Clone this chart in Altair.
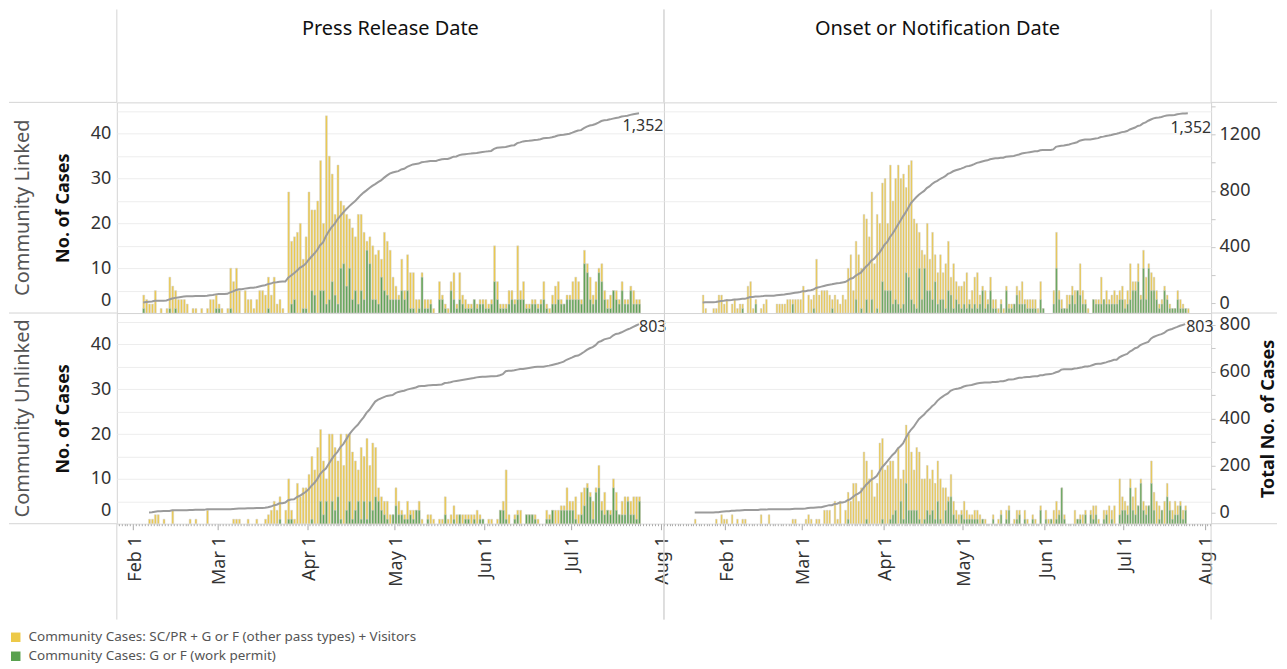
import altair as alt
import pandas as pd

YELLOW = "#EDC948"
GREEN = "#59A14F"
LINE = "#9B9B9B"
BORDER = "#D4D4D4"
GRID = "#EDEDED"
FONT = "Noto Sans"

LAB_OTHER = "Community Cases: SC/PR + G or F (other pass types) + Visitors"
LAB_WP = "Community Cases: G or F (work permit)"
COL_HEADERS = ["Press Release Date", "Onset or Notification Date"]
ROW_HEADERS = ["Community Linked", "Community Unlinked"]
LEFT_TITLE = "No. of Cases"
RIGHT_TITLE = "Total No. of Cases"

# ---- Press Release Date / Community Linked (daily from 2020-02-04)
PL_START = "2020-02-04"
PL_TOTAL = [4,3,2,2,5,0,1,0,1,8,6,5,3,3,3,2,0,1,1,0,1,0,1,3,3,4,
            2,1,0,1,10,7,
            10,5,0,5,3,3,1,3,5,5,4,8,4,8,2,3,1,0,
            27,16,17,18,20,12,17,
            27,23,23,25,34,20,44,35,31,22,33,25,
            24,22,21,19,17,22,22,18,16,
            17,15,13,14,12,18,16,14,8,
            6,4,12,5,13,9,9,3,3,9,
            3,3,3,1,0,7,4,2,1,7,
            9,2,9,4,3,2,2,3,2,3,
            3,3,2,3,15,7,2,2,2,5,
            5,3,15,5,7,2,2,3,3,2,
            3,7,2,1,4,6,7,3,2,4,
            4,7,8,7,3,14,11,8,4,7,
            10,11,5,3,4,5,5,3,7,3,
            3,6,5,3,3]
PL_WP = [1,0,0,0,0,0,0,0,0,1,0,1,0,0,0,0,0,0,0,0,0,0,0,0,0,1,
         1,0,0,0,1,0,
         0,0,0,0,0,0,0,0,0,0,0,1,0,0,0,0,0,0,
         0,2,3,0,0,1,1,
         0,5,4,0,5,5,2,3,7,4,2,10,
         11,6,10,3,5,2,5,3,14,
         11,3,3,2,8,5,4,3,3,
         3,3,5,3,5,1,1,0,1,8,
         1,1,2,0,0,3,3,1,0,5,
         3,1,3,2,1,1,1,3,1,2,
         2,1,1,2,7,3,1,1,1,2,
         3,2,3,3,3,1,1,2,2,1,
         2,3,1,0,2,2,3,2,2,3,
         3,3,3,3,2,11,9,3,2,3,
         9,7,3,1,1,5,3,2,5,2,
         2,5,2,2,2]

# ---- Onset or Notification Date / Community Linked (daily from 2020-01-23)
OL_START = "2020-01-23"
OL_TOTAL = [4,1,0,0,1,1,4,4,2,3,
            0,2,3,1,2,2,0,6,7,1,3,0,1,2,3,0,0,0,2,2,2,2,3,3,3,3,3,3,
            6,0,4,3,4,12,4,5,5,5,4,3,4,3,2,4,
            3,10,13,5,16,13,10,22,
            21,17,27,11,22,20,29,
            30,20,33,25,30,33,30,31,28,33,34,
            21,20,18,14,13,20,12,18,13,9,
            13,9,11,16,8,11,7,6,6,7,
            9,3,5,8,9,4,6,5,3,
            8,3,3,1,3,1,6,2,2,2,
            6,5,7,3,3,3,3,3,1,7,
            1,0,0,0,5,18,5,3,1,4,
            4,6,5,5,11,5,3,1,0,3,
            3,3,8,3,5,3,4,5,4,5,
            6,3,5,11,7,7,11,4,14,8,
            11,9,8,5,2,3,6,4,2,1,
            1,5,3,2,1,1]
OL_WP = [0,0,0,0,0,0,0,0,0,0,
         0,0,0,0,0,1,0,0,0,0,2,0,0,0,0,0,0,0,0,0,0,0,0,0,2,0,0,0,
         0,0,0,0,1,0,0,0,0,0,0,1,0,0,0,0,
         0,0,0,0,3,0,1,0,
         3,0,3,0,1,0,7,
         5,5,5,2,3,2,1,2,9,8,3,
         2,1,10,3,10,5,5,3,7,2,
         3,3,1,5,4,1,3,2,1,2,
         1,2,1,2,1,2,5,1,2,
         5,1,1,0,2,0,5,1,1,2,
         4,2,2,2,1,1,1,1,0,3,
         1,0,0,0,2,10,3,1,1,1,
         2,4,2,5,4,2,2,0,0,3,
         2,2,2,3,2,2,2,2,2,3,
         3,1,2,3,5,5,7,3,10,3,
         10,5,5,3,1,2,5,3,1,1,
         1,3,1,1,1,0]

# ---- Press Release Date / Community Unlinked (daily from 2020-02-06)
PU_START = "2020-02-06"
PU_TOTAL = [1,1,2,2,0,1,0,0,3,0,0,0,0,0,1,0,1,0,0,0,3,0,0,0,
            0,0,0,0,0,1,1,1,0,0,1,0,0,1,0,0,
            1,2,3,5,3,6,0,3,10,3,1,9,6,8,8,
            11,15,12,17,21,14,10,20,20,17,14,
            20,13,20,20,16,14,12,17,15,19,13,18,17,
            8,6,5,5,2,2,8,5,3,2,5,3,3,3,5,1,
            0,2,2,1,0,1,1,6,1,2,
            4,2,2,2,2,2,2,2,3,2,
            1,0,1,1,0,1,3,5,12,2,
            0,2,3,3,0,2,2,2,2,1,
            0,0,3,2,3,3,3,4,4,8,
            5,5,6,2,7,8,9,7,5,8,
            13,5,7,3,3,10,7,2,5,6,
            6,5,6,6,6]
PU_WP = [0,0,0,0,0,0,0,0,0,0,0,0,0,0,0,0,0,0,0,0,0,0,0,0,
         0,0,0,0,0,0,0,0,0,0,0,0,0,0,0,0,
         0,0,0,0,0,1,0,0,1,1,0,0,0,0,0,
         0,1,0,0,5,2,5,0,5,3,6,
         1,0,3,5,1,3,5,1,5,1,5,3,6,
         5,3,2,1,0,2,4,2,2,1,1,2,1,3,3,0,
         0,1,0,0,0,0,0,2,0,0,
         1,0,2,0,1,1,0,1,0,1,
         1,0,0,0,0,0,3,3,1,0,
         0,1,2,0,0,2,2,2,1,0,
         0,0,1,1,3,0,0,3,3,3,
         3,3,1,0,2,4,8,6,1,7,
         8,3,2,3,2,8,3,2,2,2,
         5,2,2,1,5]

# ---- Onset or Notification Date / Community Unlinked (daily from 2020-01-20)
OU_START = "2020-01-20"
OU_TOTAL = [1,0,0,0,0,0,0,0,1,0,2,1,1,
            0,2,0,1,0,1,1,0,0,0,0,0,2,0,0,2,0,0,0,0,0,0,0,0,1,1,0,0,
            0,1,2,1,0,1,1,0,3,3,3,0,5,1,5,0,
            3,7,5,9,9,5,8,16,14,10,12,6,9,18,19,
            12,13,14,14,10,17,10,12,22,20,16,
            12,17,16,10,10,13,10,12,9,14,10,8,8,6,11,5,3,2,3,5,
            3,2,2,3,3,2,1,1,0,
            0,2,0,1,3,0,3,4,0,1,
            3,3,0,3,1,0,2,1,0,4,
            0,3,1,1,3,5,3,8,2,0,
            0,0,3,1,2,2,3,0,3,4,
            4,1,0,3,3,4,3,4,0,10,
            6,5,4,10,6,8,4,10,5,4,
            4,14,7,5,4,3,5,9,5,3,
            5,4,5,3,4]
OU_WP = [0,0,0,0,0,0,0,0,0,0,0,0,0,
         0,0,0,0,0,0,0,0,0,0,0,0,0,0,0,0,0,0,0,0,0,0,0,0,0,0,0,0,
         0,0,0,0,0,0,0,0,0,0,0,0,0,0,0,0,
         0,1,0,0,0,0,0,0,1,0,0,0,0,0,1,
         0,0,1,2,3,0,5,1,9,3,3,
         3,3,1,0,1,3,2,3,1,5,1,0,3,5,6,2,1,0,2,1,
         1,1,1,1,1,0,1,0,0,
         0,1,0,0,2,0,1,3,0,0,
         1,2,0,1,0,0,1,0,0,3,
         0,1,0,1,0,1,2,8,1,0,
         0,0,0,1,1,0,2,0,2,1,
         2,0,0,1,2,0,1,0,0,2,
         3,3,2,8,3,2,4,9,3,2,
         4,9,3,0,1,3,0,6,3,1,
         2,2,4,1,3]

# ---- layout (pixels)
W, H = 548, 211
HDR, LEFT, RIGHT, XAX = 93, 108, 66, 96

DOM_PRESS = [alt.DateTime(year=2020, month=1, date=26, hours=9, minutes=20, utc=True),
             alt.DateTime(year=2020, month=8, date=2, hours=2, minutes=30, utc=True)]
DOM_ONSET = [alt.DateTime(year=2020, month=1, date=8, hours=20, utc=True),
             alt.DateTime(year=2020, month=8, date=3, hours=8, utc=True)]

color_scale = alt.Scale(domain=[LAB_OTHER, LAB_WP], range=[YELLOW, GREEN])
legend = alt.Legend(orient="none", legendX=-LEFT, legendY=529, direction="vertical", title=None,
                    symbolType="square", symbolSize=90, symbolStrokeWidth=0,
                    labelFontSize=13.5, labelColor="#555", labelLimit=0,
                    rowPadding=4, labelOffset=6, padding=0)


def one(t=""):
    return pd.DataFrame({"t": [t]})


def vrule(x, y1, y2):
    return alt.Chart(one()).mark_rule(color=BORDER, strokeWidth=1).encode(
        x=alt.value(x), y=alt.value(y1), y2=alt.value(y2))


def hrule(y, x1, x2):
    return alt.Chart(one()).mark_rule(color=BORDER, strokeWidth=1).encode(
        y=alt.value(y), x=alt.value(x1), x2=alt.value(x2))


def text_at(t, x, y, angle=0, size=18, color="#222", weight="normal"):
    return alt.Chart(one(t)).mark_text(angle=angle, fontSize=size, color=color,
                                       fontWeight=weight, align="center",
                                       baseline="middle").encode(
        text="t:N", x=alt.value(x), y=alt.value(y))


def x_axis():
    return alt.Axis(
        tickCount={"interval": "day", "step": 1},
        labelExpr="utcdate(datum.value) == 1 ? utcFormat(datum.value, '%b %-d') : ''",
        labelAngle=270, labelFontSize=18, labelColor="#333", labelOverlap=False,
        labelFlush=False, labelBound=False, labelPadding=6, labelOffset=2,
        tickColor="#a8a8a8",
        tickSize={"condition": {"test": "utcdate(datum.value) == 1", "value": 6}, "value": 2},
        domain=False, grid=False, title=None)


def left_axis(show):
    common = dict(values=list(range(0, 50, 5)), grid=True, gridColor=GRID,
                  ticks=False, domain=False)
    if show:
        return alt.Axis(**common,
                        labelExpr="datum.value % 10 == 0 ? datum.label : ''",
                        labelFontSize=18, labelColor="#333", labelPadding=6,
                        labelOffset={"condition": {"test": "datum.value == 0", "value": -13}, "value": 0},
                        title=LEFT_TITLE, titleFontSize=18, titleFontWeight="bold",
                        titleColor="#111", titlePadding=18)
    return alt.Axis(**common, labels=False, title=None)


def right_axis(vals, step, title):
    kw = dict(orient="right", values=vals,
              labelExpr=f"datum.value % {step} == 0 ? datum.label : ''",
              format="d", grid=False, domain=False, tickSize=4, tickColor="#c8c8c8",
              labelFontSize=18, labelColor="#333", labelPadding=4)
    if title:
        kw.update(title=title, titleAngle=270, titleBaseline="top", titleFontSize=18,
                  titleFontWeight="bold", titleColor="#111", titlePadding=10)
    else:
        kw.update(title=None)
    return alt.Axis(**kw)


def panel(start, total, wp, xdom, rdom, rvals, rstep, lab, left, right, bottom, deco, rtitle=None):
    dates = pd.date_range(start, periods=len(total), freq="D").strftime("%Y-%m-%d")
    df = pd.DataFrame({"date": dates, "total": total, "wp": wp})
    xax = x_axis() if bottom else None
    X = alt.X("utcyearmonthdate(date):T", scale=alt.Scale(type="utc", domain=xdom), axis=xax, title=None)
    Xc = alt.X("utcyearmonthdate(date):T", scale=alt.Scale(type="utc", domain=xdom), axis=xax,
               title=None, bandPosition=0.5)
    yl = alt.Scale(domain=[0, 47])
    lax = left_axis(left)
    yellow = alt.Chart(df).transform_filter("datum.total > 0").transform_calculate(
        series=f"'{LAB_OTHER}'").mark_bar(stroke="#d0d0d0", strokeWidth=0.5).encode(
        x=X, y=alt.Y("total:Q", scale=yl, axis=lax),
        color=alt.Color("series:N", scale=color_scale, legend=legend))
    green = alt.Chart(df).transform_filter("datum.wp > 0").transform_calculate(
        series=f"'{LAB_WP}'").mark_bar(stroke="#d0d0d0", strokeWidth=0.5).encode(
        x=X, y=alt.Y("wp:Q", scale=yl, axis=lax),
        color=alt.Color("series:N", scale=color_scale, legend=legend))
    bars = alt.layer(yellow, green)

    rax = right_axis(rvals, rstep, rtitle) if right else None
    ys = alt.Scale(domain=rdom)
    cum = alt.Chart(df).transform_window(
        cum="sum(total)", sort=[alt.SortField("date")], frame=[None, 0])
    line = cum.mark_line(color=LINE, strokeWidth=2).encode(
        x=Xc, y=alt.Y("cum:Q", scale=ys, axis=rax))
    align, dx, dy = lab
    endlab = cum.transform_window(
        rn="row_number()", sort=[alt.SortField("date", order="descending")]
    ).transform_filter("datum.rn == 1").mark_text(
        align=align, dx=dx, dy=dy, fontSize=16, color="#333", baseline="middle").encode(
        x=Xc, y=alt.Y("cum:Q", scale=ys, axis=rax), text=alt.Text("cum:Q", format=","))
    lines = alt.layer(line, endlab)
    return alt.layer(bars, lines, *deco).resolve_scale(y="independent").properties(width=W, height=H)


TOP_R = list(range(0, 1401, 200))
BOT_R = list(range(0, 801, 100))

tl = panel(PL_START, PL_TOTAL, PL_WP, DOM_PRESS, [-71, 1430], TOP_R, 400, ("center", 4, 13),
           True, False, False,
           [vrule(0, -HDR, 0), vrule(W, -HDR, 0), hrule(0, -LEFT, 0), hrule(H, -LEFT, 0),
            text_at(COL_HEADERS[0], W / 2, -73, size=20, color="#111"),
            text_at(ROW_HEADERS[0], -94, H / 2, angle=270, size=20, color="#555")])
tr = panel(OL_START, OL_TOTAL, OL_WP, DOM_ONSET, [-71, 1430], TOP_R, 400, ("center", 3, 15),
           False, True, False,
           [vrule(0, -HDR, 0), vrule(W, -HDR, 0), hrule(0, W, W + RIGHT), hrule(H, W, W + RIGHT),
            text_at(COL_HEADERS[1], W / 2, -73, size=20, color="#111")])
bl = panel(PU_START, PU_TOTAL, PU_WP, DOM_PRESS, [-47, 850], BOT_R, 200, ("left", 0, 3),
           True, False, True,
           [hrule(H, -LEFT, 0), vrule(0, H, H + XAX), vrule(W, H, H + XAX),
            text_at(ROW_HEADERS[1], -94, H / 2, angle=270, size=20, color="#555")])
br = panel(OU_START, OU_TOTAL, OU_WP, DOM_ONSET, [-47, 850], BOT_R, 200, ("left", 1, 3),
           False, True, True,
           [hrule(H, W, W + RIGHT), vrule(0, H, H + XAX), vrule(W, H, H + XAX)],
           rtitle=RIGHT_TITLE)

chart = alt.concat(
    tl, tr, bl, br, columns=2, spacing=0, bounds="flush",
).properties(padding=0).configure(font=FONT).configure_view(stroke=BORDER, strokeWidth=1)

chart.save("out.html", embed_options={"renderer": "svg", "actions": False})
